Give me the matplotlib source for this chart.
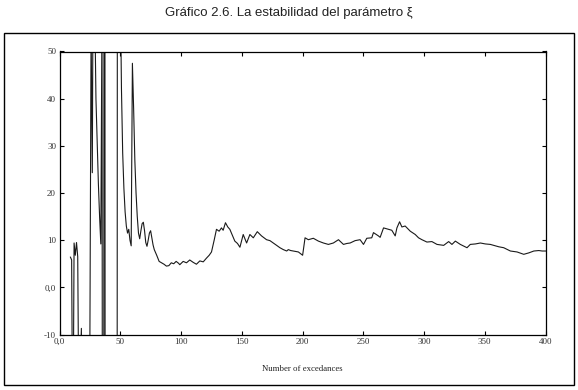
import numpy as np
import matplotlib
matplotlib.use('Agg')
import matplotlib.pyplot as plt
from matplotlib.patches import Rectangle

# Estimates of xi, by number of exceedances
n_exc = [9, 10, 11, 12, 13, 14, 15, 16, 17, 18, 19, 20, 24, 25, 26, 27, 28, 29, 30,
         31, 32, 33, 34, 35, 36, 37, 38, 46, 47, 48, 49, 50, 51, 52, 53, 54, 55,
         56, 57, 58, 59, 60, 61, 62, 63, 64, 65, 66, 67, 68, 69, 70, 71, 72, 73,
         74, 75, 76, 77, 78, 80, 82, 84, 86, 88, 90, 92, 94, 96, 98, 99.0, 101.8,
         104.5, 107.2, 110, 112.7, 115.5, 118.3, 121, 123.2, 125.1, 127.3, 129.2,
         131.4, 133.3, 134.7, 136.6, 138.5, 140.2, 142.3, 144.3, 146.5, 148.5,
         151.2, 154.0, 156.7, 159.5, 162.8, 166.3, 170.4, 173.2, 176.0, 178.7,
         181.4, 184.2, 187.0, 188.3, 190.3, 192.4, 196.6, 200.1, 202.1, 204.8,
         208.9, 213.1, 217.2, 221.3, 225.4, 229.6, 233.7, 236.5, 239.2, 243.3,
         247.4, 250.2, 252.9, 257.0, 258.4, 262.5, 263.9, 266.7, 270.8, 273.5,
         276.3, 277.7, 279.9, 281.8, 284.5, 288.7, 292.8, 295.5, 298.3, 302.4,
         306.5, 310.7, 316.2, 320.3, 323.0, 325.8, 329.9, 335.4, 338.1, 342.3,
         346.4, 350.5, 354.6, 357.4, 361.5, 365.6, 371.1, 376.6, 382.1, 386.2,
         390.4, 394.5, 397.3, 400]
xi = [6.4, 5.8, -40, 9.4, 6.8, 9.5, 6.5, -30, -18, -8.7, -30, -60, -60, -12, 55, 24.3, 90, 60, 40,
      31, 22, 15, 9.2, 60, -300, 300, -300, -300, -300, 300, 300, 65, 42, 28.5, 21, 16, 13,
      11.5, 12.3, 10.0, 8.8, 47.5, 38, 27, 20, 15, 11.5, 10.3, 12, 13.5, 13.8, 12, 9.5, 8.7, 10,
      11.5, 12, 10.5, 9, 8, 6.8, 5.5, 5.2, 4.9, 4.5, 4.6, 5.2, 5.0, 5.5, 5.1, 4.8, 5.5,
      5.2, 5.8, 5.3, 4.9, 5.6, 5.4, 6.2, 6.8, 7.5, 10.0, 12.3,
      11.9, 12.6, 12.1, 13.7, 12.8, 12.3, 11.0, 9.8, 9.3, 8.5,
      11.2, 9.4, 11.2, 10.5, 11.8, 10.9, 10.1, 9.9, 9.4, 8.9,
      8.4, 8.0, 7.7, 8.0, 7.8, 7.7, 7.5, 6.8, 10.5, 10.1,
      10.4, 9.8, 9.4, 9.1, 9.4, 10.1, 9.1, 9.3, 9.4, 9.9,
      10.1, 9.1, 10.4, 10.5, 11.6, 10.9, 10.6, 12.6, 12.3, 12.1,
      10.9, 12.6, 13.9, 12.8, 13.0, 11.9, 11.2, 10.5, 10.1, 9.6,
      9.7, 9.1, 8.9, 9.7, 9.1, 9.8, 9.1, 8.4, 9.1, 9.2,
      9.4, 9.2, 9.1, 8.9, 8.6, 8.4, 7.7, 7.5, 7.0, 7.3,
      7.7, 7.8, 7.7, 7.7]

x_ticks = [0, 50, 100, 150, 200, 250, 300, 350, 400]
x_labels = ['0,0', '50', '100', '150', '200', '250', '300', '350', '400']
y_ticks = [-10, 0, 10, 20, 30, 40, 50]
y_labels = ['-10', '0,0', '10', '20', '30', '40', '50']

W, H = 578, 390
fig = plt.figure(figsize=(W / 100, H / 100), dpi=100)

# outer frame around the chart
fig.patches.append(Rectangle((4 / W, 1 - 385 / H), 570 / W, 352 / H, transform=fig.transFigure,
                             fill=False, edgecolor='black', linewidth=1.0))

fig.text(0.5, 1 - 13 / H, 'Gráfico 2.6. La estabilidad del parámetro ξ', ha='center', va='center',
         fontsize=9.5, family=['Liberation Sans', 'DejaVu Sans'], color='#222222')

ax = fig.add_axes([59.5 / W, 1 - 334.5 / H, 486 / W, 283 / H])
ax.plot(n_exc, xi, color='#1a1a1a', linewidth=0.8)

ax.set_xlim(0, 400)
ax.set_ylim(-10, 50)
ax.set_xticks(x_ticks)
ax.set_xticklabels(x_labels)
ax.set_yticks(y_ticks)
ax.set_yticklabels(y_labels)
ax.tick_params(direction='in', top=True, right=True, length=3, width=0.8, pad=2.5,
               labelsize=6.5, labelcolor='#333333')
for lab in ax.get_xticklabels() + ax.get_yticklabels():
    lab.set_family('Liberation Serif')
for sp in ax.spines.values():
    sp.set_linewidth(0.9)

ax.set_xlabel('Number of excedances', family='Liberation Serif', fontsize=6.3, color='#222222',
              labelpad=14)

fig.savefig('out.png', dpi=100)
